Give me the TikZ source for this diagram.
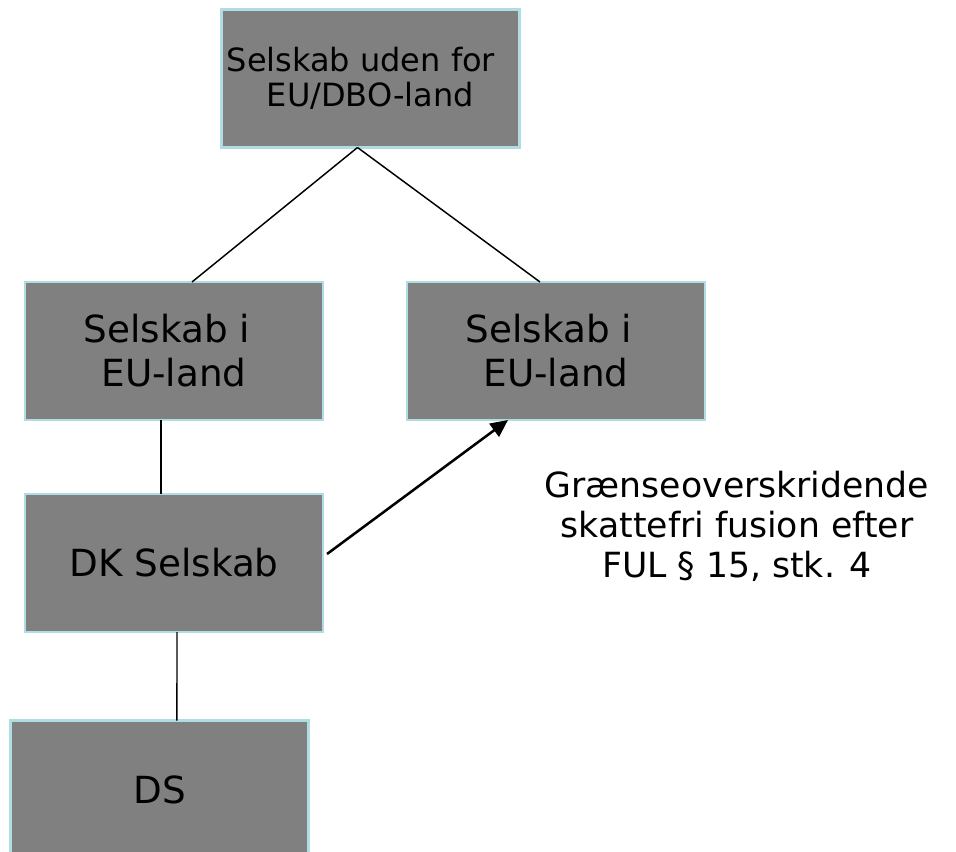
\documentclass[tikz,border=0pt]{standalone}
\usepackage{fontspec}
\setmainfont{DejaVu Sans}
\usetikzlibrary{arrows.meta}
\definecolor{boxfill}{HTML}{808080}
\definecolor{boxedge}{HTML}{B0DDE3}
\begin{document}
\begin{tikzpicture}[x=0.75pt,y=-0.75pt,
  entity/.style={draw=boxedge, line width=2.1pt, fill=boxfill, text=black,
    minimum width=223.5pt, minimum height=103.5pt, inner sep=0pt, outer sep=0pt,
    align=center, font=\fontsize{28pt}{33pt}\selectfont},
  link/.style={line width=1.1pt, draw=black},
  move/.style={line width=1.9pt, draw=black, -{Triangle[length=13pt,width=12pt]}}]
\useasboundingbox (0,0) rectangle (956,852);
\clip (0,0) rectangle (956,852);

% companies
\node[entity, font=\fontsize{24pt}{26.25pt}\selectfont] (top) at (370.5,78.5)
  {Selskab uden for\hspace*{0.6em}\\EU/DBO-land};
\node[entity] (left)  at (174,351) {Selskab i\hspace*{0.38em}\\EU-land};
\node[entity] (right) at (556,351) {Selskab i\hspace*{0.38em}\\EU-land};
\node[entity] (dk)    at (174,563) {DK Selskab};
\node[entity] (ds)    at (159.5,789.5) {DS};

% ownership lines
\coordinate (apex) at ([xshift=-9.75pt]top.south);
\draw[link] (apex) -- ([xshift=13.5pt]left.north);
\draw[link] (apex) -- ([xshift=-12pt]right.north);
\draw[link] ([xshift=-9.75pt]left.south) -- ([xshift=-9.75pt]dk.north);
\draw[link] ([xshift=2.25pt]dk.south) -- ([xshift=13.1pt]ds.north);

% merger arrow
\draw[move] ([shift={(4,-9)}]dk.east) -- ([shift={(101,0)}]right.south west);

\node[align=center, font=\fontsize{26pt}{30pt}\selectfont, inner sep=0pt] (note) at (737,526)
  {Grænseoverskridende\\skattefri fusion efter\\FUL § 15, stk. 4};
\end{tikzpicture}
\end{document}
